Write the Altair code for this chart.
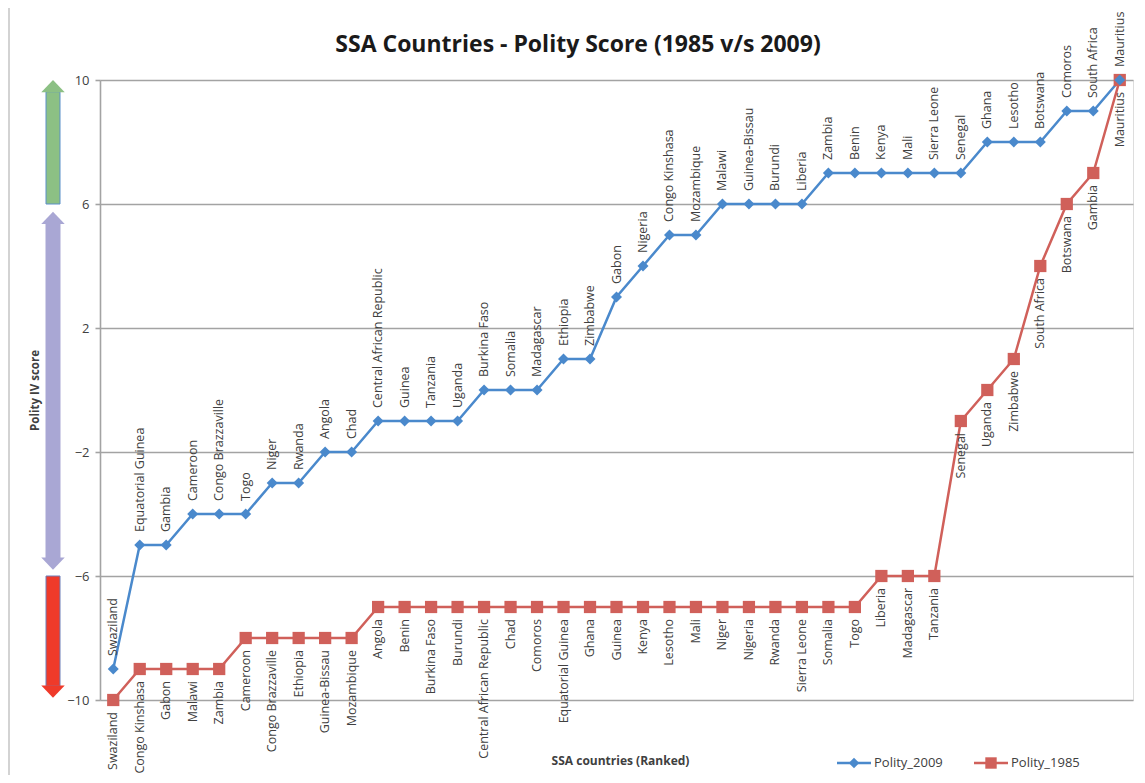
import altair as alt
import pandas as pd

rank = list(range(1, 40))

names_2009 = ["Swaziland", "Equatorial Guinea", "Gambia", "Cameroon", "Congo Brazzaville",
              "Togo", "Niger", "Rwanda", "Angola", "Chad", "Central African Republic",
              "Guinea", "Tanzania", "Uganda", "Burkina Faso", "Somalia", "Madagascar",
              "Ethiopia", "Zimbabwe", "Gabon", "Nigeria", "Congo Kinshasa", "Mozambique",
              "Malawi", "Guinea-Bissau", "Burundi", "Liberia", "Zambia", "Benin", "Kenya",
              "Mali", "Sierra Leone", "Senegal", "Ghana", "Lesotho", "Botswana", "Comoros",
              "South Africa", "Mauritius"]
vals_2009 = [-9, -5, -5, -4, -4, -4, -3, -3, -2, -2, -1, -1, -1, -1, 0, 0, 0, 1, 1, 3, 4,
             5, 5, 6, 6, 6, 6, 7, 7, 7, 7, 7, 7, 8, 8, 8, 9, 9, 10]

names_1985 = ["Swaziland", "Congo Kinshasa", "Gabon", "Malawi", "Zambia", "Cameroon",
              "Congo Brazzaville", "Ethiopia", "Guinea-Bissau", "Mozambique", "Angola",
              "Benin", "Burkina Faso", "Burundi", "Central African Republic", "Chad",
              "Comoros", "Equatorial Guinea", "Ghana", "Guinea", "Kenya", "Lesotho", "Mali",
              "Niger", "Nigeria", "Rwanda", "Sierra Leone", "Somalia", "Togo", "Liberia",
              "Madagascar", "Tanzania", "Senegal", "Uganda", "Zimbabwe", "South Africa",
              "Botswana", "Gambia", "Mauritius"]
vals_1985 = [-10, -9, -9, -9, -9, -8, -8, -8, -8, -8, -7, -7, -7, -7, -7, -7, -7, -7, -7,
             -7, -7, -7, -7, -7, -7, -7, -7, -7, -7, -6, -6, -6, -1, 0, 1, 4, 6, 7, 10]

y_ticks = [-10, -6, -2, 2, 6, 10]

# decorative band arrows (score ranges)
arrow_start = [6.0, 5.37, -6.0]
arrow_end = [9.62, -5.42, -9.55]
arrow_fill = ["#8cc084", "#a9a7d4", "#ef3a2a"]
arrow_stroke = ["#5b8fc9", "#a9a7d4", "#6d7fb8"]
head_up = [10.0, 5.75]
head_up_fill = ["#8cc084", "#a9a7d4"]
head_down = [-5.8, -9.93]
head_down_fill = ["#a9a7d4", "#ef3a2a"]

TITLE = "SSA Countries - Polity Score (1985 v/s 2009)"

BLUE = "#4a89cc"
RED = "#d0605a"
FONT = "Open Sans"
TXT = "#404040"
GRID = "#a3a3a3"

df09 = pd.DataFrame({"rank": rank, "country": names_2009, "score": vals_2009})
df85 = pd.DataFrame({"rank": rank, "country": names_1985, "score": vals_1985})

xs = alt.Scale(domain=[0.5, 39.5], nice=False, zero=False)
ys = alt.Scale(domain=[-10, 10], nice=False, zero=False)

X = alt.X("rank:Q", scale=xs,
          axis=alt.Axis(labels=False, ticks=False, domain=False, grid=False,
                        title="SSA countries (Ranked)", titleX=520, titleY=60,
                        titleBaseline="middle", titleAlign="center",
                        titleFont=FONT, titleFontSize=12, titleFontWeight="bold",
                        titleColor=TXT))
Y = alt.Y("score:Q", scale=ys,
          axis=alt.Axis(values=y_ticks, title="Polity IV score", grid=True,
                        gridColor=GRID, gridWidth=1.6, domainColor=GRID,
                        domainWidth=1.6, tickColor=GRID, tickWidth=1.6, tickSize=5,
                        labelFont=FONT, labelFontSize=13, labelColor=TXT, labelPadding=6,
                        titleFont=FONT, titleFontSize=11.5, titleFontWeight="bold",
                        titleColor=TXT, titleAngle=270, titleX=-65, titleY=310,
                        titleAlign="center", titleBaseline="middle"))

line09 = alt.Chart(df09).mark_line(color=BLUE, strokeWidth=2.5).encode(x=X, y=Y)
pts09 = alt.Chart(df09).mark_point(shape="diamond", filled=True, size=121, color=BLUE,
                                   opacity=1).encode(x="rank:Q", y="score:Q")
lab09 = alt.Chart(df09).mark_text(angle=270, align="left", baseline="middle", dx=13,
                                  font=FONT, fontSize=12.5, color=TXT).encode(
    x="rank:Q", y="score:Q", text="country:N")

line85 = alt.Chart(df85).mark_line(color=RED, strokeWidth=2.5).encode(x="rank:Q", y="score:Q")
pts85 = alt.Chart(df85).mark_point(shape="square", filled=True, size=150, color=RED,
                                   opacity=1).encode(x="rank:Q", y="score:Q")
lab85 = alt.Chart(df85).mark_text(angle=270, align="right", baseline="middle", dx=-12,
                                  font=FONT, fontSize=12.5, color=TXT).encode(
    x="rank:Q", y="score:Q", text="country:N")

# arrows in left margin
adf = pd.DataFrame({"score": arrow_start, "score_end": arrow_end, "fill": arrow_fill,
                    "stroke": arrow_stroke})
shafts = alt.Chart(adf).mark_rect(strokeWidth=1).encode(
    x=alt.value(-54), x2=alt.value(-40),
    y="score:Q", y2="score_end:Q",
    fill=alt.Fill("fill:N", scale=None), stroke=alt.Stroke("stroke:N", scale=None))
hu = pd.DataFrame({"score": head_up, "fill": head_up_fill})
heads_up = alt.Chart(hu).mark_point(shape="M-1,1.05L0,0L1,1.05Z", filled=True, size=550,
                                    opacity=1).encode(
    x=alt.value(-47), y="score:Q", fill=alt.Fill("fill:N", scale=None))
hd = pd.DataFrame({"score": head_down, "fill": head_down_fill})
heads_down = alt.Chart(hd).mark_point(shape="M-1,-1.05L0,0L1,-1.05Z", filled=True, size=550,
                                      opacity=1).encode(
    x=alt.value(-47), y="score:Q", fill=alt.Fill("fill:N", scale=None))

# outer frame
one = pd.DataFrame({"k": [0]})
frame_left = alt.Chart(one).mark_rule(color="#c4c4c4", strokeWidth=1.5).encode(
    x=alt.value(-91), y=alt.value(-74), y2=alt.value(710))
frame_top = alt.Chart(one).mark_rule(color="#c4c4c4", strokeWidth=1.5).encode(
    y=alt.value(-74), x=alt.value(-91), x2=alt.value(1050))

# chart title as a text mark
title = alt.Chart(one).mark_text(align="center", baseline="middle", font=FONT, fontSize=23,
                                 fontWeight="bold", color="#1a1a1a", text=TITLE).encode(
    x=alt.value(478), y=alt.value(-35))

# legend
leg = []
for x0, col, shp, sz, name in [(737, BLUE, "diamond", 110, "Polity_2009"),
                               (874, RED, "square", 130, "Polity_1985")]:
    leg.append(alt.Chart(one).mark_rule(color=col, strokeWidth=2.5).encode(
        x=alt.value(x0), x2=alt.value(x0 + 34), y=alt.value(683)))
    leg.append(alt.Chart(one).mark_point(shape=shp, filled=True, size=sz, color=col,
                                         opacity=1).encode(
        x=alt.value(x0 + 17), y=alt.value(683)))
    leg.append(alt.Chart(one).mark_text(align="left", baseline="middle", font=FONT,
                                        fontSize=13, color=TXT, text=name).encode(
        x=alt.value(x0 + 37), y=alt.value(683)))

chart = alt.layer(
    line09, frame_left, frame_top, title, shafts, heads_up, heads_down,
    line85, pts85, pts09, lab09, lab85, *leg
).properties(
    width=1033, height=620,
    padding={"left": 92, "top": 72, "right": 4, "bottom": 75},
    autosize=alt.AutoSizeParams(type="none"),
).configure_view(stroke=None).configure(background="white")

chart.save("out.html", embed_options={"renderer": "svg", "actions": False})
